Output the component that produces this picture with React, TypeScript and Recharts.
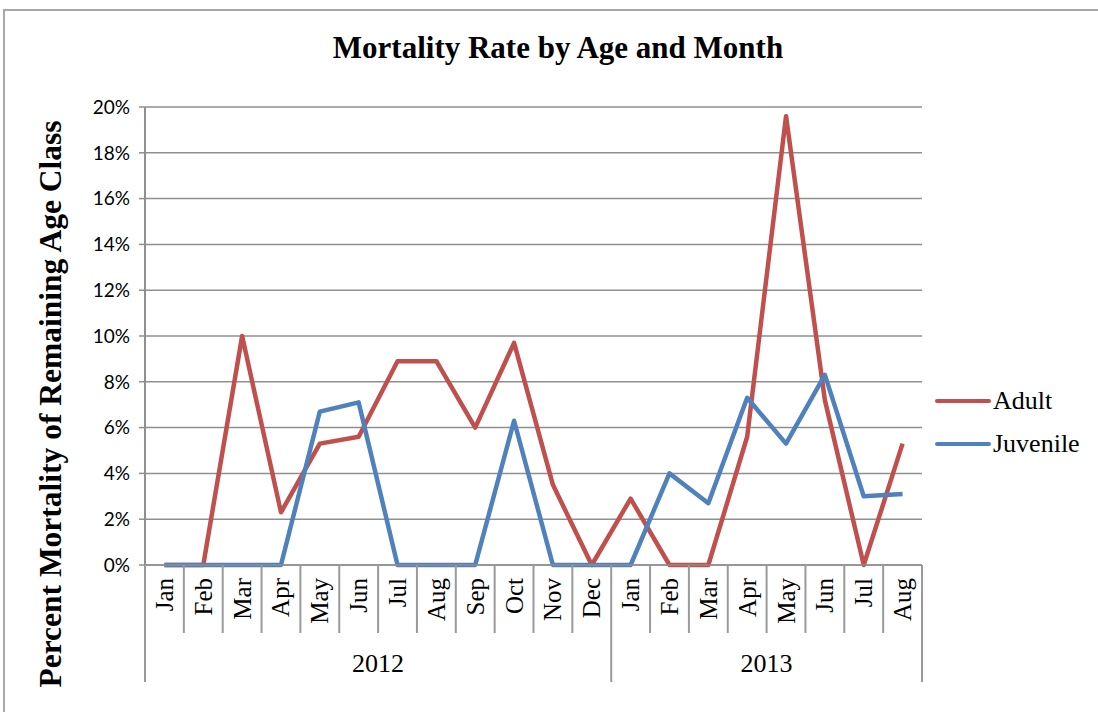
import React from 'react';
import { LineChart, Line, XAxis, YAxis, CartesianGrid, Legend } from 'recharts';

const months = ['Jan', 'Feb', 'Mar', 'Apr', 'May', 'Jun', 'Jul', 'Aug', 'Sep', 'Oct', 'Nov', 'Dec',
  'Jan', 'Feb', 'Mar', 'Apr', 'May', 'Jun', 'Jul', 'Aug'];
const years = ['2012', '2012', '2012', '2012', '2012', '2012', '2012', '2012', '2012', '2012', '2012', '2012',
  '2013', '2013', '2013', '2013', '2013', '2013', '2013', '2013'];
const adult = [0, 0, 10.0, 2.3, 5.3, 5.6, 8.9, 8.9, 6.0, 9.7, 3.5, 0, 2.9, 0, 0, 5.6, 19.6, 7.2, 0, 5.3];
const juvenile = [0, 0, 0, 0, 6.7, 7.1, 0, 0, 0, 6.3, 0, 0, 0, 4.0, 2.7, 7.3, 5.3, 8.3, 3.0, 3.1];
const yTicks = [0, 2, 4, 6, 8, 10, 12, 14, 16, 18, 20];

const data = months.map((m, i) => ({ key: `${m}-${years[i]}`, month: m, year: years[i], adult: adult[i], juvenile: juvenile[i] }));

const W = 1098;
const H = 712;
const LEGEND_W = 163;
// recharts adds the legend width to the right offset, so the plot ends at x=922
const MARGIN = { top: 107, right: 176 - LEGEND_W, bottom: 0, left: 0 };
const Y_AXIS_W = 145;
const X_AXIS_H = 147;
const BAND = (922 - Y_AXIS_W) / months.length;
const SERIF = '"Liberation Serif", "Times New Roman", serif';
const SEP = '#9a9a9a';

const MonthTick = (props: any) => {
  const { x, y, payload } = props;
  const i = payload.index;
  const half = payload.offset || BAND / 2;
  const left = x - half;
  const yearStart = i === 0 || years[i] !== years[i - 1];
  const isLast = i === months.length - 1;
  let yearLabel = null;
  if (yearStart) {
    const count = years.filter(v => v === years[i]).length;
    const cx = left + count * half;
    yearLabel = (
      <text x={cx} y={y + 98} textAnchor="middle" dominantBaseline="central" fontFamily={SERIF} fontSize={26} fill="#000">
        {years[i]}
      </text>
    );
  }
  return (
    <g>
      <line x1={left} x2={left} y1={y} y2={y + (yearStart ? 117 : 68)} stroke={SEP} strokeWidth={2} />
      {isLast && <line x1={x + half} x2={x + half} y1={y} y2={y + 117} stroke={SEP} strokeWidth={2} />}
      <text
        x={x}
        y={y + 13}
        transform={`rotate(-90, ${x}, ${y + 13})`}
        textAnchor="end"
        dominantBaseline="central"
        fontFamily={SERIF}
        fontSize={25}
        fill="#000"
      >
        {months[i]}
      </text>
      {yearLabel}
    </g>
  );
};

const YLabel = () => (
  <text
    x={50}
    y={404}
    transform="rotate(-90, 50, 404)"
    textAnchor="middle"
    dominantBaseline="central"
    fontFamily={SERIF}
    fontSize={31.5}
    fontWeight="bold"
    fill="#000"
  >
    Percent Mortality of Remaining Age Class
  </text>
);

const renderLegend = (props: any) => (
  <div style={{ fontFamily: SERIF, fontSize: 26, color: '#000' }}>
    {props.payload.map((e: any) => (
      <div key={e.value} style={{ display: 'flex', alignItems: 'center', height: 43 }}>
        <span style={{ display: 'inline-block', width: 56, height: 4, background: e.color, borderRadius: 2, marginRight: 2 }} />
        <span>{e.value}</span>
      </div>
    ))}
  </div>
);

export default function App() {
  return (
    <div style={{ position: 'absolute', left: 0, top: 0, width: W, height: H, overflow: 'hidden', background: '#fff' }}>
      <div style={{ position: 'absolute', left: 3, top: 9, width: W + 20, height: H + 20, border: '2px solid #a8a8a8' }} />
      <div
        style={{
          position: 'absolute', left: 558, top: 32, transform: 'translateX(-50%)', whiteSpace: 'nowrap',
          fontFamily: SERIF, fontSize: 31, fontWeight: 'bold', lineHeight: '31px', color: '#000'
        }}
      >
        Mortality Rate by Age and Month
      </div>
      <div style={{ position: 'absolute', left: 0, top: 0 }}>
        <LineChart width={W} height={H} data={data} margin={MARGIN}>
          <CartesianGrid vertical={false} stroke="#8f8f8f" strokeWidth={1.5} />
          <XAxis
            dataKey="key"
            scale="band"
            interval={0}
            tickLine={false}
            tickSize={0}
            tickMargin={0}
            height={X_AXIS_H}
            axisLine={{ stroke: '#8f8f8f', strokeWidth: 1.5 }}
            tick={<MonthTick />}
          />
          <YAxis
            width={Y_AXIS_W}
            domain={[0, 20]}
            ticks={yTicks}
            interval={0}
            tickFormatter={(v: number) => `${v}%`}
            tick={{ fontFamily: 'Lato, "Liberation Sans", sans-serif', fontSize: 19, fill: '#000' }}
            tickSize={6}
            tickMargin={9}
            tickLine={{ stroke: '#8f8f8f', strokeWidth: 1.5 }}
            axisLine={{ stroke: '#8f8f8f', strokeWidth: 2 }}
            label={<YLabel />}
          />
          <Legend
            layout="horizontal"
            verticalAlign="middle"
            align="right"
            content={renderLegend}
            wrapperStyle={{ left: 935, right: 'auto', top: 379, width: LEGEND_W }}
          />
          <Line type="linear" dataKey="adult" name="Adult" stroke="#C0504D" strokeWidth={4.5} dot={false} strokeLinejoin="round" isAnimationActive={false} />
          <Line type="linear" dataKey="juvenile" name="Juvenile" stroke="#4F81BD" strokeWidth={4.5} dot={false} strokeLinejoin="round" isAnimationActive={false} />
        </LineChart>
      </div>
    </div>
  );
}
